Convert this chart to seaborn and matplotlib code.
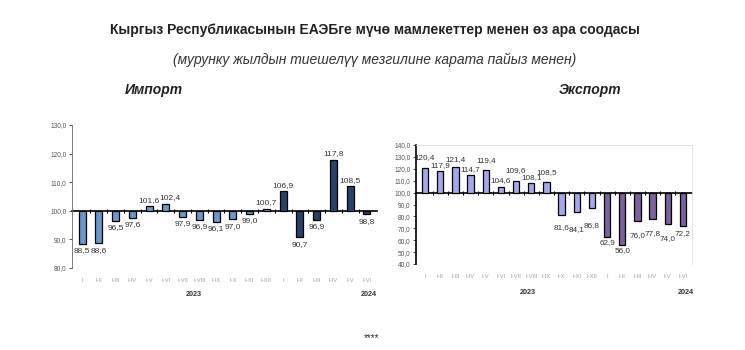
import matplotlib
matplotlib.use("Agg")
import matplotlib.pyplot as plt
import seaborn as sns
import pandas as pd
import numpy as np

# ---- data ----
periods = ["I", "I-II", "I-III", "I-IV", "I-V", "I-VI", "I-VII", "I-VIII", "I-IX",
           "I-X", "I-XI", "I-XII", "I", "I-II", "I-III", "I-IV", "I-V", "I-VI"]
years = ["2023"] * 12 + ["2024"] * 6
import_vals = [88.5, 88.6, 96.5, 97.6, 101.6, 102.4, 97.9, 96.9, 96.1,
               97.0, 99.0, 100.7, 106.9, 90.7, 96.9, 117.8, 108.5, 98.8]
export_vals = [120.4, 117.9, 121.4, 114.7, 119.4, 104.6, 109.6, 108.1, 108.5,
               81.6, 84.1, 86.8, 62.9, 56.0, 76.0, 77.8, 74.0, 72.2]

title = "Кыргыз Республикасынын ЕАЭБге мүчө мамлекеттер менен өз ара соодасы"
subtitle = "(мурунку жылдын тиешелүү мезгилине карата пайыз менен)"
import_title = "Импорт"
export_title = "Экспорт"

sns.set_theme(style="white")
plt.rcParams["font.family"] = ["Liberation Sans", "DejaVu Sans"]

fig = plt.figure(figsize=(7.45, 3.5), dpi=100)
fig.patch.set_facecolor("white")


def make_df(vals):
    df = pd.DataFrame({
        "key": [f"{y} {p} {i}" for i, (y, p) in enumerate(zip(years, periods))],
        "period": periods,
        "year": years,
        "value": vals,
    })
    df["delta"] = df["value"] - 100.0
    return df


def fmt(v):
    return f"{v:.1f}".replace(".", ",")


def draw(ax, vals, palette, ylim, yticks):
    df = make_df(vals)
    sns.barplot(data=df, x="key", y="delta", hue="year", palette=palette,
                dodge=False, legend=False, errorbar=None, ax=ax,
                width=0.42, bottom=100, edgecolor="black", linewidth=0.9,
                order=list(df["key"]))
    ax.set_ylim(*ylim)
    ax.set_xlim(-0.6, len(df) - 0.4)
    ax.set_yticks(yticks)
    ax.set_yticklabels([fmt(t) for t in yticks], fontsize=4.7, color="#555555")
    ax.set_xticks(range(len(df)))
    ax.set_xticklabels(periods, fontsize=4.3, color="#a0a0a0")
    ax.tick_params(axis="x", length=0, pad=7)
    ax.tick_params(axis="y", length=2.5, width=0.6, color="#333333", pad=1.5,
                   direction="out", left=True)
    ax.set_xlabel("")
    ax.set_ylabel("")
    # baseline at 100 with small tick marks between bars
    pos = (100 - ylim[0]) / (ylim[1] - ylim[0])
    sec = ax.secondary_xaxis(pos)
    sec.set_xticks(np.arange(len(df) - 1) + 0.5)
    sec.set_xticklabels([])
    sec.tick_params(axis="x", direction="inout", length=2.5, width=0.8, color="black")
    for s in ["top", "bottom"]:
        sec.spines[s].set_linewidth(1.2)
        sec.spines[s].set_color("black")
    return ax


def label_bars(ax, pos_off, neg_off, fs, xshift=None):
    xshift = xshift or {}
    bars = [b for c in ax.containers for b in c]
    bars.sort(key=lambda b: b.get_x())
    pi = ni = 0
    for i, b in enumerate(bars):
        h = b.get_height()
        xc = b.get_x() + b.get_width() / 2
        yend = b.get_y() + h
        if h >= 0:
            off = pos_off[pi % len(pos_off)]; pi += 1
        else:
            off = -neg_off[ni % len(neg_off)]; ni += 1
        ax.annotate(fmt(100 + h), xy=(xc, yend), xytext=(xshift.get(i, 0), off),
                    textcoords="offset pixels", ha="center", va="center",
                    fontsize=fs, color="#333333")


# Left: import
axL = fig.add_axes([0.0966, 0.2343, 0.4094, 0.4086])
draw(axL, import_vals, {"2023": "#5b95dc", "2024": "#1f3f72"},
     (80, 130), [80, 90, 100, 110, 120, 130])
label_bars(axL, [6], [7], 6.0, xshift={5: 4})
for s in ["top", "right", "bottom"]:
    axL.spines[s].set_visible(False)
axL.spines["left"].set_color("#666666")
axL.spines["left"].set_linewidth(0.6)

# Right: export
axR = fig.add_axes([0.5584, 0.2457, 0.3705, 0.34])
draw(axR, export_vals, {"2023": "#9b9bf5", "2024": "#7858a6"},
     (40, 140), [40, 50, 60, 70, 80, 90, 100, 110, 120, 130, 140])
label_bars(axR, [11, 6, 8, 6, 9, 7, 11, 5, 10], [13, 18, 17, 6, 6, 14, 15, 15, 8],
           5.9)
axR.spines["bottom"].set_visible(False)
for s in ["top", "right"]:
    axR.spines[s].set_color("#dddddd")
    axR.spines[s].set_linewidth(0.6)
axR.spines["left"].set_color("black")
axR.spines["left"].set_linewidth(1.2)

# Texts
fig.text(375 / 745, 1 - 30 / 350, title, ha="center", va="center",
         fontsize=10.0, fontweight="bold", color="#222222")
fig.text(375 / 745, 1 - 60 / 350, subtitle, ha="center", va="center",
         fontsize=10.0, style="italic", color="#333333")
fig.text(154 / 745, 1 - 90 / 350, import_title, ha="center", va="center",
         fontsize=10.0, style="italic", fontweight="bold", color="#222222")
fig.text(590 / 745, 1 - 90 / 350, export_title, ha="center", va="center",
         fontsize=10.0, style="italic", fontweight="bold", color="#222222")
fig.text(194 / 745, 1 - 294 / 350, "2023", ha="center", va="center",
         fontsize=5.2, fontweight="bold", color="#333333")
fig.text(369 / 745, 1 - 294 / 350, "2024", ha="center", va="center",
         fontsize=5.2, fontweight="bold", color="#333333")
fig.text(528 / 745, 1 - 292 / 350, "2023", ha="center", va="center",
         fontsize=5.2, fontweight="bold", color="#333333")
fig.text(686 / 745, 1 - 292 / 350, "2024", ha="center", va="center",
         fontsize=5.2, fontweight="bold", color="#333333")
fig.text(372 / 745, 1 - 338 / 350, "****", ha="center", va="center",
         fontsize=7, color="#333333")

fig.savefig("out.png", dpi=100, facecolor="white")
